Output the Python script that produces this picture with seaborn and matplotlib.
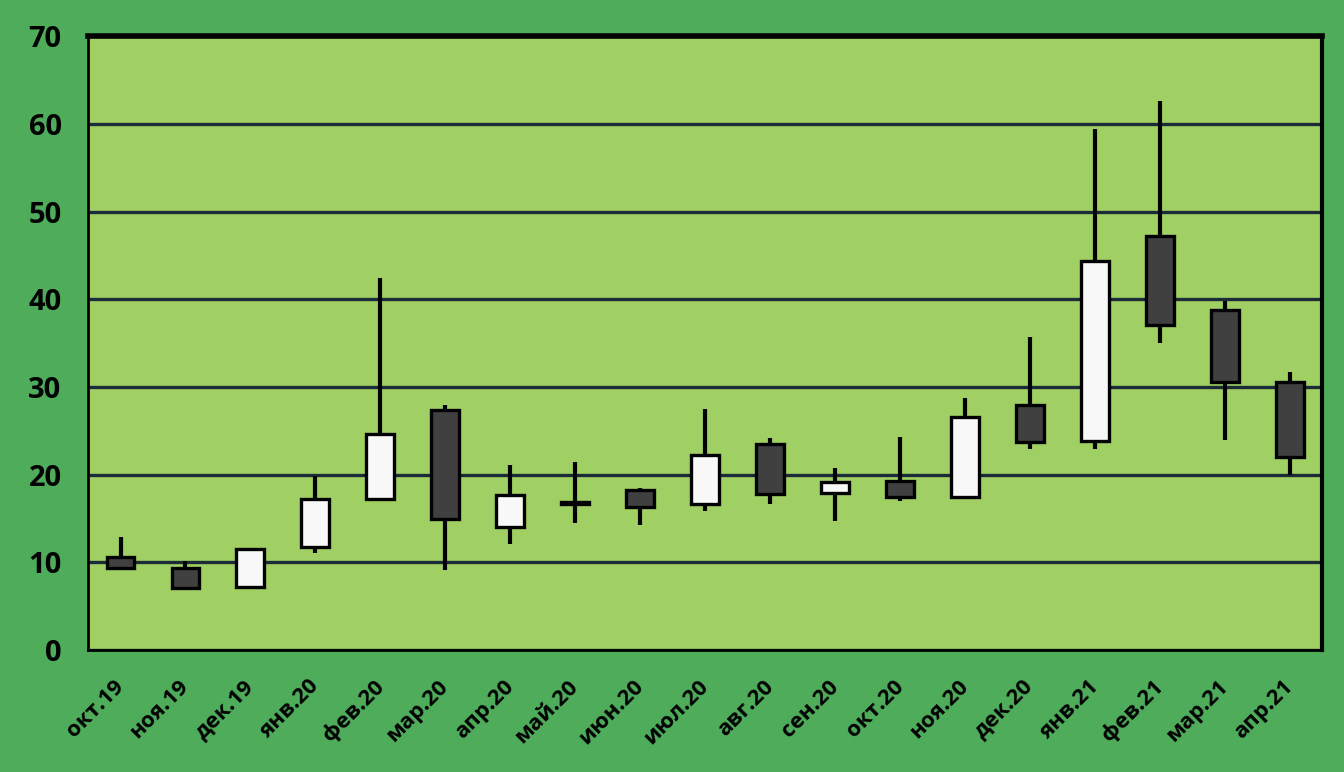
import numpy as np
import pandas as pd
import matplotlib
matplotlib.use("Agg")
import matplotlib.pyplot as plt
import matplotlib.transforms as mtransforms
import seaborn as sns

# Данные (OHLC по месяцам)
months = ["окт.19", "ноя.19", "дек.19", "янв.20", "фев.20", "мар.20", "апр.20",
          "май.20", "июн.20", "июл.20", "авг.20", "сен.20", "окт.20", "ноя.20",
          "дек.20", "янв.21", "фев.21", "мар.21", "апр.21"]
open_ = [10.6, 9.4, 7.2, 11.7, 17.2, 27.4, 14.0, 16.9, 18.3, 16.6, 23.5, 17.9,
         19.3, 17.4, 27.9, 23.8, 47.2, 38.8, 30.6]
close = [9.4, 7.1, 11.5, 17.2, 24.6, 14.9, 17.7, 16.7, 16.3, 22.3, 17.8, 19.2,
         17.4, 26.6, 23.7, 44.4, 37.1, 30.6, 22.0]
high = [12.9, 10.1, 11.5, 19.8, 42.4, 28.0, 21.1, 21.4, 18.5, 27.5, 24.2, 20.8,
        24.3, 28.7, 35.7, 59.4, 62.6, 39.8, 31.7]
low = [9.1, 6.8, 7.2, 11.1, 17.2, 9.1, 12.1, 14.5, 14.3, 15.8, 16.7, 14.7,
       17.0, 17.4, 22.9, 22.9, 35.0, 23.9, 20.0]

df = pd.DataFrame({"month": months, "open": open_, "close": close,
                   "high": high, "low": low})
df["bottom"] = df[["open", "close"]].min(axis=1)
df["body"] = (df["open"] - df["close"]).abs().clip(lower=0.15)
df["up"] = df["close"] >= df["open"]

outer_green = "#4EAC5B"
plot_green = "#A0D063"

sns.set_style("white")
plt.rcParams["font.family"] = ["Open Sans", "DejaVu Sans"]
plt.rcParams["text.color"] = "black"
plt.rcParams["xtick.labelcolor"] = "black"
plt.rcParams["ytick.labelcolor"] = "black"

fig = plt.figure(figsize=(13.44, 7.72), dpi=100, facecolor=outer_green)
ax = fig.add_axes([0.0655, 0.158, 0.9185, 0.795])
ax.set_facecolor(plot_green)

# Тени (фитили)
x = np.arange(len(months))
ax.vlines(x, df["low"], df["high"], color="black", linewidth=3, zorder=2)

# Тела свечей
sns.barplot(x="month", y="body", data=df, order=months, bottom=df["bottom"].values,
            color="#404040", edgecolor="black", linewidth=2.4, width=0.43,
            errorbar=None, ax=ax, zorder=3)
for patch, up in zip(ax.patches, df["up"]):
    patch.set_facecolor("#F8F8F8" if up else "#404040")

ax.set_ylim(0, 70)
ax.set_xlim(-0.5, len(months) - 0.5)
ax.set_yticks(range(0, 71, 10))
ax.grid(axis="y", color="#1B2B38", linewidth=2.4, zorder=1)
ax.grid(axis="x", visible=False)
ax.set_axisbelow(True)

ax.set_xticks(x)
ax.set_xticklabels(months, rotation=45, ha="right", va="center",
                   rotation_mode="anchor", fontsize=16, fontweight="bold")
offset = mtransforms.ScaledTranslation(10 / 100, 0, fig.dpi_scale_trans)
for lab in ax.get_xticklabels():
    lab.set_transform(lab.get_transform() + offset)
ax.set_xticks(np.arange(-0.5, len(months)), minor=True)
ax.tick_params(axis="x", which="major", length=0, pad=24)
ax.tick_params(axis="x", which="minor", length=6, color="#8A8A8A", width=1.2)
ax.tick_params(axis="y", length=6, color="#8A8A8A", width=1.2, labelsize=21, pad=13)
for lab in ax.get_yticklabels():
    lab.set_fontweight("bold")

ax.set_xlabel("")
ax.set_ylabel("")
for side in ["left", "bottom"]:
    ax.spines[side].set_color("black")
    ax.spines[side].set_linewidth(2)
ax.spines["top"].set_color("black")
ax.spines["top"].set_linewidth(4)
ax.spines["right"].set_color("black")
ax.spines["right"].set_linewidth(3)

fig.savefig("out.png", dpi=100, facecolor=outer_green)
